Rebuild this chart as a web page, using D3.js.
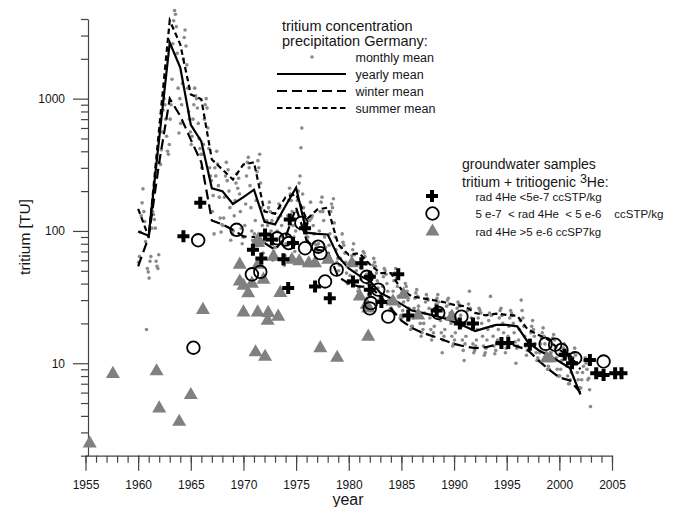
<!DOCTYPE html>
<html>
<head>
<meta charset="utf-8">
<script src="https://cdn.jsdelivr.net/npm/d3@7"></script>
<style>
  body { margin: 0; background: #fff; }
  text { font-family: "Liberation Sans", Arial, sans-serif; fill: #151515; }
  .axis path, .axis line { stroke: #444; stroke-width: 1.2; }
</style>
</head>
<body>
<script>
// PRECIPITATION MEANS (TU), ONE VALUE PER YEAR
var lineYears = [1960, 1961, 1962, 1963, 1964, 1965, 1966, 1967, 1968, 1969, 1970, 1971, 1972, 1973, 1974,
  1975, 1976, 1977, 1978, 1979, 1980, 1981, 1982, 1983, 1984, 1985, 1986, 1987, 1988, 1989, 1990, 1991,
  1992, 1993, 1994, 1995, 1996, 1997, 1998, 1999, 2000, 2001, 2002]
var yearlyTU = [99, 92, 500, 2650, 1720, 635, 475, 210, 200, 160, 180, 205, 117, 112, 155, 212, 97, 95, 94,
  64, 52, 46, 42, 34, 31, 28, 25, 24, 23, 22, 20.5, 19, 17.5, 18.5, 19.5, 19.5, 19, 14.5, 12.6, 11.4, 10.3, 9.2, 5.8]
var winterTU = [54, 90, 330, 1000, 740, 490, 330, 120, 112, 102, 91, 90, 81, 72, 90, 150, 85, 72, 70, 45, 40,
  38, 38, 32, 26, 21, 18.5, 17, 16, 15, 14, 13.4, 13, 13.2, 13.8, 14.2, 13.4, 12.6, 10.5, 9, 7.8, 7.4, 6]
var summerTU = [147, 90, 600, 3900, 2570, 1077, 990, 347, 291, 245, 318, 330, 140, 135, 180, 190, 122, 145,
  150, 79, 66, 68, 56, 48, 48, 36, 32, 31, 30, 29, 27.6, 27, 24, 23, 23.7, 23.2, 22.8, 18, 16.4, 15, 12.6, 11.5, 9]

// MONTHLY MEANS (TU), ONE ROW PER YEAR OF lineYears, JAN..DEC
var monthlyTU = [
  [58, 64, 98, 130, 163, 208, 140, 118, 83, 18, 52, 49],
  [44, 59, 64, 105, 140, 133, 122, 105, 59, 54, 52, 66],
  [326, 318, 410, 560, 820, 1000, 900, 700, 520, 400, 380, 450],
  [700, 900, 1400, 2600, 3880, 4640, 4340, 3500, 2200, 1200, 550, 1000],
  [650, 900, 1300, 2000, 2900, 3300, 2500, 1800, 1200, 800, 700, 560],
  [450, 520, 700, 900, 1200, 1050, 1000, 850, 650, 500, 420, 380],
  [300, 380, 450, 700, 900, 1000, 850, 600, 420, 300, 260, 240],
  [140, 185, 95, 300, 260, 400, 320, 220, 180, 125, 98, 112],
  [110, 125, 180, 260, 330, 240, 290, 200, 150, 85, 100, 95],
  [100, 130, 170, 230, 270, 210, 250, 190, 140, 105, 80, 90],
  [90, 110, 160, 260, 330, 360, 300, 220, 150, 100, 85, 70],
  [95, 120, 170, 280, 340, 300, 380, 230, 150, 110, 68, 82],
  [85, 95, 120, 110, 150, 165, 140, 100, 120, 60, 70, 75],
  [75, 85, 100, 125, 160, 150, 130, 110, 90, 62, 55, 65],
  [80, 95, 130, 170, 210, 190, 170, 140, 110, 90, 70, 100],
  [140, 170, 200, 230, 260, 425, 600, 190, 150, 120, 100, 95],
  [85, 90, 105, 120, 165, 125, 130, 110, 95, 80, 62, 78],
  [70, 80, 100, 140, 165, 180, 140, 120, 90, 75, 60, 65],
  [68, 78, 95, 140, 160, 150, 175, 115, 90, 72, 58, 62],
  [50, 55, 62, 75, 95, 82, 78, 68, 58, 48, 40, 42],
  [42, 46, 55, 65, 72, 80, 66, 58, 50, 42, 35, 37],
  [38, 43, 52, 62, 70, 68, 64, 56, 47, 40, 33, 35],
  [36, 40, 46, 55, 62, 58, 54, 48, 42, 37, 30, 32],
  [30, 33, 38, 45, 52, 50, 47, 40, 35, 30, 25, 26],
  [26, 30, 35, 42, 48, 52, 44, 38, 32, 27, 22, 23],
  [22, 25, 29, 34, 40, 38, 35, 30, 26, 22, 18, 19],
  [19, 22, 26, 31, 34, 36, 32, 27, 23, 20, 16, 17],
  [18, 20, 24, 29, 33, 31, 30, 26, 22, 18, 15, 16],
  [17, 19, 23, 28, 31, 33, 29, 25, 21, 17, 12, 15],
  [16, 18, 22, 27, 30, 31, 28, 24, 20, 16, 13.5, 14],
  [15, 17, 21, 26, 29, 28, 27, 23, 19, 15, 12.5, 10.5],
  [14, 16, 20, 25, 28, 35, 26, 22, 18, 14, 12, 12.5],
  [13.5, 15, 18, 22, 26, 25, 24, 20, 16, 13.5, 11.5, 12],
  [13, 15, 18, 21, 24, 32, 23, 19, 16, 13.5, 11.8, 12.5],
  [14, 15, 18, 22, 25, 26, 23, 20, 17, 14, 12, 13],
  [14, 16, 19, 22, 25, 24, 23, 20, 17, 14.5, 10, 13],
  [13.5, 15, 18, 21, 30, 25, 22, 19, 16, 13.5, 11.5, 12.5],
  [12.5, 13.5, 15, 17, 19, 21, 18, 16, 14, 12, 10.5, 11],
  [10.5, 12, 14, 15.5, 17, 18.5, 16, 14, 12, 10.5, 9, 9.5],
  [9, 10.5, 12, 14, 15.5, 16.5, 15, 13, 11, 9, 8, 8],
  [8, 9, 10.5, 12, 13, 14, 12.5, 11, 9.5, 8, 7, 7],
  [7.5, 8.5, 9.5, 11, 12, 13, 11.5, 10, 8.5, 7.5, 6.5, 6.5],
  [6.5, 7.5, 8.5, 9.5, 10.5, 11, 10, 9, 7.5, 7.7, 6.3, 4.7]
]

// GROUNDWATER SAMPLES (YEAR, TU)
var crossYear = [1964.3, 1965.9, 1970.9, 1971.7, 1972.05, 1972.7, 1973.8, 1974.25, 1974.7, 1974.4, 1975.85,
  1976.8, 1978.2, 1981.2, 1982.0, 1980.4, 1983.1, 1984.7, 1982.0, 1985.65, 1988.35, 1990.55, 1991.8,
  1994.5, 1995.15, 1997.2, 2000.5, 2001.2, 2002.9, 2003.5, 2004.2, 2005.3, 2005.9]
var crossTU = [91, 163, 72, 62, 94, 86, 61, 37, 81, 122, 105, 38, 31, 57, 45, 41.5, 29, 47, 36, 23, 25, 20,
  20, 14.2, 14.2, 13.8, 11.6, 10, 10.6, 8.4, 8.15, 8.4, 8.4]
var circleYear = [1965.7, 1969.35, 1970.8, 1971.6, 1973.2, 1974.0, 1974.3, 1975.5, 1975.85, 1977.1, 1977.3,
  1978.85, 1977.75, 1981.7, 1982.8, 1983.75, 1982.0, 1982.1, 1988.5, 1990.7, 1998.7, 1999.6, 2000.2,
  2001.5, 2004.2, 1965.25]
var circleTU = [85, 102, 47, 49, 88, 86, 81, 115, 74, 76, 68, 51, 41.5, 45, 36, 22.5, 26, 28.5, 24, 22.5, 14,
  13.8, 12.6, 10.9, 10.3, 13.1]
var triYear = [1955.4, 1957.6, 1961.75, 1962.0, 1963.9, 1965.0, 1966.15, 1970.0, 1971.35, 1972.35, 1972.3,
  1973.3, 1971.15, 1972.05, 1969.65, 1969.65, 1970.0, 1970.8, 1970.45, 1971.9, 1971.4, 1973.5, 1974.6,
  1971.4, 1972.85, 1975.3, 1976.2, 1976.8, 1978.05, 1971.4, 1981.05, 1981.7, 1980.3, 1981.85, 1981.85,
  1985.2, 1984.2, 1986.6, 1989.8, 1999.1, 1998.8, 1977.3, 1978.9]
var triTU = [2.48, 8.3, 8.7, 4.56, 3.61, 5.75, 25.3, 24.2, 24.2, 24, 21, 22.5, 12.1, 11.2, 55.6, 41.5, 38.5,
  40, 33.8, 42.8, 81, 34, 60.5, 55.6, 64, 59, 57, 57, 60.5, 86, 32, 27.7, 57, 26, 15.9, 33, 29.3, 23,
  22.5, 10.9, 10.9, 13, 11]

// AXIS TICKS
var yearTicks = [1955, 1960, 1965, 1970, 1975, 1980, 1985, 1990, 1995, 2000, 2005]
var tuTicks = [10, 100, 1000]
var tuMinor = [2, 3, 4, 5, 6, 7, 8, 9, 20, 30, 40, 50, 60, 70, 80, 90, 200, 300, 400, 500, 600, 700, 800, 900,
  2000, 3000, 4000]

var w = 691
var h = 507

var svg = d3.select('body')
            .append('svg')
            .attr('width', w)
            .attr('height', h)

var x = d3.scaleLinear()
        .domain([1955, 2005])
        .range([85.5, 612])

var y = d3.scaleLog()
        .domain([2, 4000])
        .range([455.7, 19])

// AXES
svg.append('g')
  .attr('class', 'axis')
  .attr('transform', 'translate(0,455.7)')
  .call(d3.axisBottom(x).tickValues(d3.range(1955, 2006)).tickSize(7).tickSizeOuter(0).tickFormat(''))

svg.append('g')
  .attr('class', 'axis')
  .attr('transform', 'translate(0,455.7)')
  .call(d3.axisBottom(x).tickValues(yearTicks).tickSize(15).tickSizeOuter(0).tickPadding(10).tickFormat(d3.format('d')))
  .call(function (g) { g.select('.domain').remove() })
  .selectAll('text')
    .style('font-size', '12px')
    .attr('fill', '#151515')

svg.append('g')
  .attr('class', 'axis')
  .attr('transform', 'translate(88,0)')
  .call(d3.axisLeft(y).tickValues(tuMinor).tickSize(7).tickSizeOuter(0).tickFormat(''))

svg.append('g')
  .attr('class', 'axis')
  .attr('transform', 'translate(88,0)')
  .call(d3.axisLeft(y).tickValues(tuTicks).tickSize(15).tickSizeOuter(0).tickPadding(8).tickFormat(d3.format('d')))
  .call(function (g) { g.select('.domain').remove() })
  .selectAll('text')
    .style('font-size', '12px')
    .attr('fill', '#151515')

svg.selectAll('.axis .tick line').attr('stroke', '#333')

svg.append('text')
  .attr('transform', 'translate(30,237) rotate(-90)')
  .attr('text-anchor', 'middle')
  .style('font-size', '15.5px')
  .text('tritium [TU]')

svg.append('text')
  .attr('x', 348)
  .attr('y', 505)
  .attr('text-anchor', 'middle')
  .style('font-size', '16px')
  .text('year')

// MONTHLY DOTS
var monthly = []
monthlyTU.forEach(function (row, i) {
  row.forEach(function (v, m) {
    monthly.push({ t: lineYears[i] + (m + 0.5) / 12, v: v })
  })
})

svg.selectAll('.dot')
  .data(monthly)
  .enter()
    .append('circle')
    .classed('dot', true)
    .attr('cx', function (d) { return x(d.t) })
    .attr('cy', function (d) { return y(d.v) })
    .attr('r', 1.8)
    .attr('fill', '#8a8a8a')

// MEAN LINES
var means = [
  { values: summerTU, dash: '5.5,3.5' },
  { values: winterTU, dash: '10,5' },
  { values: yearlyTU, dash: null }
]

var line = d3.line()
  .x(function (d) { return x(d[0]) })
  .y(function (d) { return y(d[1]) })

means.forEach(function (s) {
  svg.append('path')
    .datum(lineYears.map(function (yr, i) { return [yr, s.values[i]] }))
    .attr('d', line)
    .attr('fill', 'none')
    .attr('stroke', '#000')
    .attr('stroke-width', 2.2)
    .attr('stroke-dasharray', s.dash)
})

// GROUNDWATER SYMBOLS
var tri = d3.symbol().type(d3.symbolTriangle).size(85)
var cross = d3.symbol().type(d3.symbolCross).size(80)

svg.selectAll('.tri')
  .data(triYear)
  .enter()
    .append('path')
    .classed('tri', true)
    .attr('d', tri)
    .attr('transform', function (d, i) { return 'translate(' + x(d) + ',' + y(triTU[i]) + ')' })
    .attr('fill', '#808080')

svg.selectAll('.cross')
  .data(crossYear)
  .enter()
    .append('path')
    .classed('cross', true)
    .attr('d', cross)
    .attr('transform', function (d, i) { return 'translate(' + x(d) + ',' + y(crossTU[i]) + ')' })
    .attr('fill', '#000')

svg.selectAll('.ring')
  .data(circleYear)
  .enter()
    .append('circle')
    .classed('ring', true)
    .attr('cx', function (d) { return x(d) })
    .attr('cy', function (d, i) { return y(circleTU[i]) })
    .attr('r', 6.3)
    .attr('fill', 'none')
    .attr('stroke', '#000')
    .attr('stroke-width', 1.8)

// LEGEND: PRECIPITATION
svg.append('text').attr('x', 282).attr('y', 31).style('font-size', '14.5px').text('tritium concentration')
svg.append('text').attr('x', 282).attr('y', 45.5).style('font-size', '14.5px').text('precipitation Germany:')

var precipLegend = [
  { label: 'monthly mean', y: 57, dash: 'dot' },
  { label: 'yearly mean', y: 74, dash: null },
  { label: 'winter mean', y: 91, dash: '10,5' },
  { label: 'summer mean', y: 108, dash: '5.5,3.5' }
]

precipLegend.forEach(function (d) {
  if (d.dash === 'dot') {
    svg.append('circle').attr('cx', 312).attr('cy', d.y).attr('r', 1.8).attr('fill', '#8a8a8a')
  } else {
    svg.append('line')
      .attr('x1', 277).attr('x2', 346).attr('y1', d.y).attr('y2', d.y)
      .attr('stroke', '#000').attr('stroke-width', 2.2)
      .attr('stroke-dasharray', d.dash)
  }
  svg.append('text')
    .attr('x', 355.5)
    .attr('y', d.y + 4.5)
    .style('font-size', '12.5px')
    .text(d.label)
})

// LEGEND: GROUNDWATER
svg.append('text').attr('x', 462).attr('y', 168.5).style('font-size', '14px').text('groundwater samples')
var t2 = svg.append('text').attr('x', 462).attr('y', 187).style('font-size', '14px')
t2.append('tspan').text('tritium + tritiogenic ')
t2.append('tspan').attr('dy', -4).style('font-size', '12.5px').text('3')
t2.append('tspan').attr('dy', 4).text('He:')

svg.append('path').attr('d', cross).attr('transform', 'translate(432,196)').attr('fill', '#000')
svg.append('circle').attr('cx', 432.5).attr('cy', 213.5).attr('r', 6.3)
  .attr('fill', 'none').attr('stroke', '#000').attr('stroke-width', 1.8)
svg.append('path').attr('d', tri).attr('transform', 'translate(432.5,231.5)').attr('fill', '#808080')

var gwLabels = ['rad 4He <5e-7 ccSTP/kg', '5 e-7  < rad 4He  < 5 e-6    ccSTP/kg', 'rad 4He >5 e-6 ccSP7kg']
svg.selectAll('.gw-label')
  .data(gwLabels)
  .enter()
    .append('text')
    .classed('gw-label', true)
    .attr('x', 475.5)
    .attr('y', function (d, i) { return 200.5 + i * 17.5 })
    .style('font-size', '11.5px')
    .style('white-space', 'pre')
    .text(function (d) { return d })
</script>
</body>
</html>
